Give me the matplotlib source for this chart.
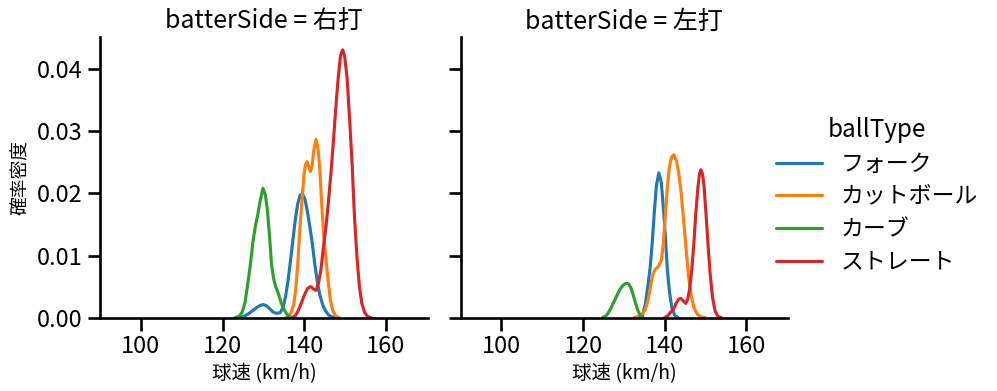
import matplotlib
matplotlib.use("Agg")
import matplotlib.pyplot as plt

plt.rcParams["font.family"] = ["Noto Sans CJK JP", "DejaVu Sans"]

# ---- data: KDE curves (speed km/h, density) ----
sides = ["右打", "左打"]
ball_types = ["フォーク", "カットボール", "カーブ", "ストレート"]
colors = ["#1f77b4", "#ff7f0e", "#2ca02c", "#d62728"]

# batterSide = 右打
fork_r_x = [123.5, 124.5, 125.5, 126.5, 127.5, 128.5, 129.3, 130.0, 130.8, 131.6, 132.4, 133.2,
            134.1, 134.8, 135.4, 136.0, 136.6, 137.2, 137.8, 138.4, 139.0, 139.6, 140.2, 140.8,
            141.4, 142.0, 142.6, 143.2, 143.8, 144.5, 145.2, 146.0, 147.0, 148.0]
fork_r_y = [0.0000, 0.0001, 0.0003, 0.0007, 0.0012, 0.0017, 0.0020, 0.0021, 0.0019, 0.0014, 0.0009, 0.0007,
            0.0008, 0.0016, 0.0033, 0.0058, 0.0090, 0.0124, 0.0157, 0.0183, 0.0197, 0.0199, 0.0190, 0.0170,
            0.0145, 0.0118, 0.0085, 0.0058, 0.0037, 0.0021, 0.0011, 0.0004, 0.0001, 0.0000]
cut_r_x = [135.5, 136.2, 136.8, 137.4, 137.9, 138.4, 138.9, 139.4, 139.9, 140.3, 140.7, 141.1, 141.5,
           141.9, 142.4, 142.9, 143.4, 143.8, 144.3, 144.8, 145.3, 145.8, 146.4, 147.0, 147.7, 148.5]
cut_r_y = [0.0000, 0.0003, 0.0009, 0.0020, 0.0045, 0.0085, 0.0140, 0.0185, 0.0228, 0.0246, 0.0251, 0.0243, 0.0235,
           0.0244, 0.0272, 0.0287, 0.0270, 0.0240, 0.0180, 0.0130, 0.0095, 0.0062, 0.0028, 0.0011, 0.0003, 0.0000]
curve_r_x = [123.0, 124.0, 124.8, 125.5, 126.2, 126.8, 127.4, 128.0, 128.6, 129.2, 129.9, 130.5,
             131.0, 131.5, 132.0, 132.5, 133.0, 133.6, 134.2, 134.8, 135.5, 136.2, 137.0]
curve_r_y = [0.0000, 0.0002, 0.0009, 0.0024, 0.0056, 0.0085, 0.0120, 0.0146, 0.0165, 0.0188, 0.0208, 0.0197,
             0.0172, 0.0131, 0.0085, 0.0063, 0.0050, 0.0040, 0.0027, 0.0016, 0.0008, 0.0002, 0.0000]
st_r_x = [137.0, 137.8, 138.5, 139.2, 140.0, 140.8, 141.6, 142.3, 142.9, 143.5, 144.1, 144.7, 145.3,
          145.9, 146.5, 147.1, 147.7, 148.3, 148.9, 149.4, 149.9, 150.5, 151.1, 151.7, 152.3, 152.9,
          153.5, 154.1, 154.8, 155.5, 156.3]
st_r_y = [0.0000, 0.0003, 0.0011, 0.0022, 0.0036, 0.0047, 0.0050, 0.0046, 0.0044, 0.0056, 0.0078, 0.0114, 0.0145,
          0.0185, 0.0230, 0.0280, 0.0335, 0.0385, 0.0422, 0.0431, 0.0420, 0.0385, 0.0320, 0.0249, 0.0162, 0.0098,
          0.0050, 0.0023, 0.0008, 0.0002, 0.0000]

# batterSide = 左打
fork_l_x = [133.8, 134.6, 135.3, 135.9, 136.5, 137.0, 137.5, 138.0, 138.6, 139.2, 139.7, 140.2,
            140.7, 141.2, 141.8, 142.5, 143.3]
fork_l_y = [0.0000, 0.0004, 0.0022, 0.0050, 0.0082, 0.0122, 0.0170, 0.0212, 0.0233, 0.0218, 0.0178, 0.0132,
            0.0077, 0.0042, 0.0016, 0.0004, 0.0000]
cut_l_x = [132.5, 133.5, 134.5, 135.3, 136.0, 136.6, 137.2, 137.7, 138.2, 138.7, 139.2, 139.7, 140.2, 140.7,
           141.2, 141.7, 142.3, 142.9, 143.5, 144.1, 144.7, 145.3, 145.9, 146.5, 147.2, 148.0, 149.0, 150.0]
cut_l_y = [0.0000, 0.0002, 0.0006, 0.0013, 0.0030, 0.0052, 0.0071, 0.0078, 0.0080, 0.0085, 0.0092, 0.0118, 0.0165, 0.0210,
           0.0243, 0.0258, 0.0262, 0.0253, 0.0232, 0.0200, 0.0155, 0.0110, 0.0066, 0.0037, 0.0017, 0.0006, 0.0001, 0.0000]
curve_l_x = [124.8, 125.8, 126.6, 127.4, 128.2, 129.0, 129.8, 130.5, 131.1, 131.7, 132.3, 132.9, 133.5, 134.1, 134.8]
curve_l_y = [0.0000, 0.0004, 0.0012, 0.0023, 0.0034, 0.0045, 0.0052, 0.0055, 0.0055, 0.0049, 0.0037, 0.0023,
             0.0011, 0.0003, 0.0000]
st_l_x = [140.0, 140.8, 141.5, 142.2, 142.9, 143.5, 144.0, 144.6, 145.2, 145.7, 146.2, 146.7, 147.2, 147.7,
          148.2, 148.6, 148.9, 149.3, 149.7, 150.2, 150.7, 151.2, 151.8, 152.4, 153.1, 154.0]
st_l_y = [0.0000, 0.0003, 0.0009, 0.0013, 0.0024, 0.0030, 0.0031, 0.0027, 0.0023, 0.0030, 0.0048, 0.0078, 0.0120, 0.0170,
          0.0210, 0.0232, 0.0238, 0.0232, 0.0211, 0.0165, 0.0115, 0.0070, 0.0032, 0.0011, 0.0002, 0.0000]

curves = {
    "右打": [(fork_r_x, fork_r_y), (cut_r_x, cut_r_y), (curve_r_x, curve_r_y), (st_r_x, st_r_y)],
    "左打": [(fork_l_x, fork_l_y), (cut_l_x, cut_l_y), (curve_l_x, curve_l_y), (st_l_x, st_l_y)],
}

xticks = [100, 120, 140, 160]
yticks = [0.00, 0.01, 0.02, 0.03, 0.04]

# ---- plot ----
fig = plt.figure(figsize=(9.97, 3.91), dpi=100)
ax1 = fig.add_axes([0.1003, 0.1875, 0.329, 0.7186])
ax2 = fig.add_axes([0.4621, 0.1875, 0.3283, 0.7186], sharey=ax1)

handles = []
for ax, side in zip([ax1, ax2], sides):
    for (xs, ys), bt, c in zip(curves[side], ball_types, colors):
        ln, = ax.plot(xs, ys, color=c, lw=2.25, label=bt, solid_capstyle="round")
        if side == sides[0]:
            handles.append(ln)
    ax.set_xlim(90, 170.3)
    ax.set_ylim(0, 0.0452)
    ax.set_xticks(xticks)
    ax.set_yticks(yticks)
    for s in ["top", "right"]:
        ax.spines[s].set_visible(False)
    for s in ["left", "bottom"]:
        ax.spines[s].set_linewidth(1.9)
    ax.tick_params(axis="both", which="major", length=9, width=1.9, labelsize=17)
    ax.set_title(f"batterSide = {side}", fontsize=18)
    ax.set_xlabel("球速 (km/h)", fontsize=14)

ax1.set_ylabel("確率密度", fontsize=13.5)
ax2.tick_params(axis="y", labelleft=False)

fig.legend(handles, ball_types, title="ballType", loc="center left",
           bbox_to_anchor=(0.758, 0.50), frameon=False, fontsize=16.5, title_fontsize=17.5,
           handlelength=2.0, labelspacing=0.42)

fig.savefig("out.png", dpi=100)
